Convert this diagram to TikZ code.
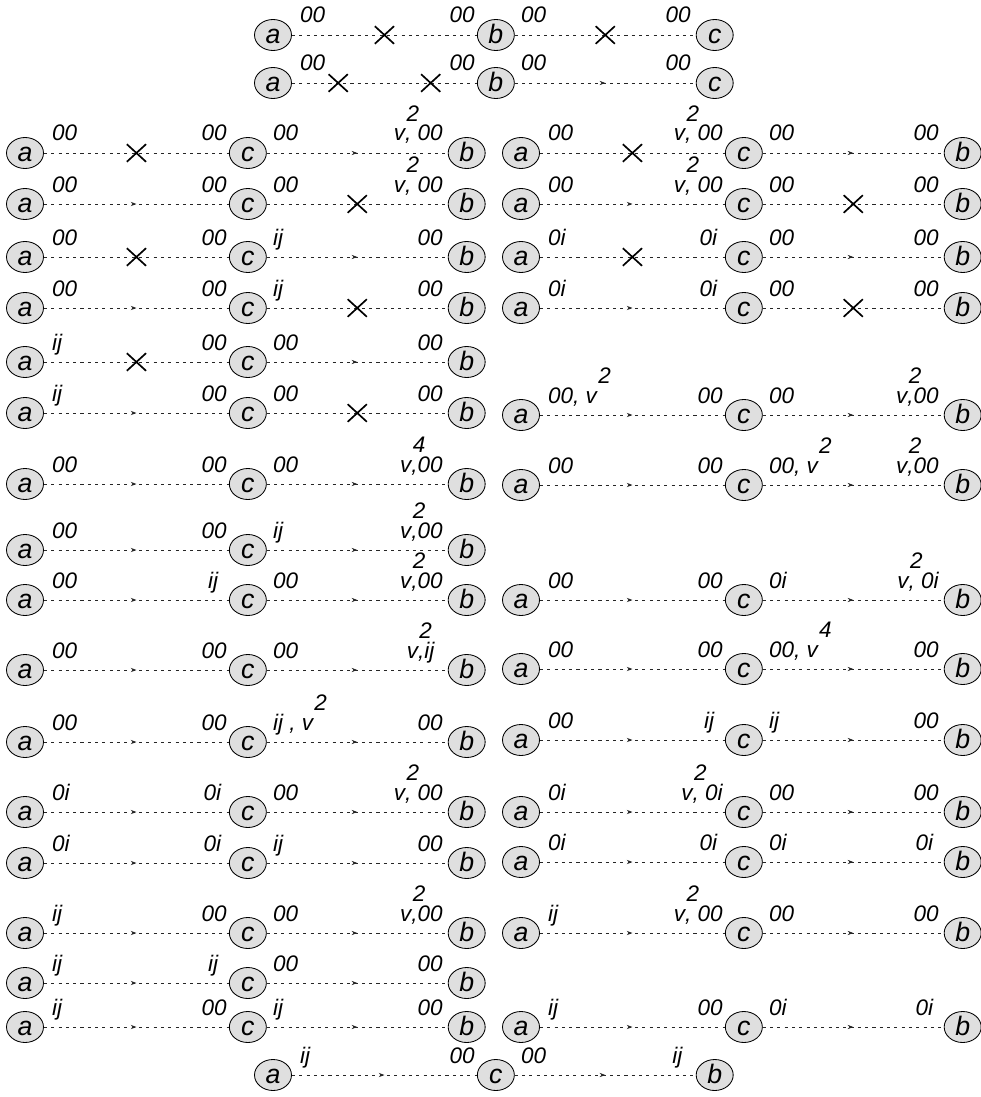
\documentclass[tikz,border=0pt]{standalone}
\usepackage{fontspec}
\setmainfont{Liberation Sans}
\usetikzlibrary{positioning,shapes.geometric,arrows.meta,decorations.markings}

\newcommand{\hiexp}[1]{\rlap{\kern1pt\raisebox{0.85em}{#1}}}

\tikzset{
  vx/.style={ellipse, draw, fill=gray!25, line width=0.6pt, minimum width=0.925cm, minimum height=0.775cm,
    inner sep=0pt, text height=12.5pt, text depth=0pt, font=\fontsize{19}{23}\selectfont\itshape},
  lbr/.style={anchor=base west, inner sep=0pt, font=\fontsize{16}{19}\selectfont\itshape},
  lbl/.style={anchor=base east, inner sep=0pt, font=\fontsize{16}{19}\selectfont\itshape},
  link/.style={draw=black!85, line width=0.55pt, dash pattern=on 2.2pt off 3pt},
  xmark/.style={solid, draw=black, line width=1.2pt},
  fwd/.style={link, postaction={decorate}, decoration={markings,
    mark=at position 0.5 with {\arrow{Stealth[length=4pt,width=3pt]}}}},
  cut/.style={link, postaction={decorate}, decoration={markings,
    mark=at position 0.5 with {\draw[xmark] (-0.24,-0.22) -- (0.24,0.22) (-0.24,0.22) -- (0.24,-0.22);}}},
  cuttwo/.style={link, postaction={decorate}, decoration={markings,
    mark=at position 0.25 with {\draw[xmark] (-0.24,-0.22) -- (0.24,0.22) (-0.24,0.22) -- (0.24,-0.22);},
    mark=at position 0.75 with {\draw[xmark] (-0.24,-0.22) -- (0.24,0.22) (-0.24,0.22) -- (0.24,-0.22);}}}
}

% #1 name, #2 #3 where a sits, #4 a right, #5 c left, #6 c right, #7 b left, #8 #9 the two links
\newcommand{\acb}[9]{%
  \node[vx] (#1a) at (#2,#3) {a};
  \node[vx, right=4.625cm of #1a] (#1c) {c};
  \node[vx, right=4.525cm of #1c] (#1b) {b};
  \node[above right=0.3cm and 0.2cm of #1a.east, lbr] (#1ar) {#4};
  \node[above left=0.3cm and 0.05cm of #1c.west, lbl] (#1cl) {#5};
  \node[above right=0.3cm and 0.15cm of #1c.east, lbr] (#1cr) {#6};
  \node[above left=0.3cm and 0.12cm of #1b.west, lbl] (#1bl) {#7};
  \draw[#8] (#1a) -- (#1c);
  \draw[#9] (#1c) -- (#1b);
}

\begin{document}
\begin{tikzpicture}[x=1cm,y=1cm]
\useasboundingbox (0,0) rectangle (24.5,-27.425);
\node[vx] (t1a) at (6.825,-0.875) {a};
\node[vx, right=4.625cm of t1a] (t1b) {b};
\node[vx, right=4.525cm of t1b] (t1c) {c};
\node[above right=0.3cm and 0.2cm of t1a.east, lbr] (t1ar) {00};
\node[above left=0.3cm and 0.05cm of t1b.west, lbl] (t1bl) {00};
\node[above right=0.3cm and 0.15cm of t1b.east, lbr] (t1br) {00};
\node[above left=0.3cm and 0.12cm of t1c.west, lbl] (t1cl) {00};
\draw[cut] (t1a) -- (t1b);
\draw[cut] (t1b) -- (t1c);
\node[vx] (t2a) at (6.825,-2.075) {a};
\node[vx, right=4.625cm of t2a] (t2b) {b};
\node[vx, right=4.525cm of t2b] (t2c) {c};
\node[above right=0.3cm and 0.2cm of t2a.east, lbr] (t2ar) {00};
\node[above left=0.3cm and 0.05cm of t2b.west, lbl] (t2bl) {00};
\node[above right=0.3cm and 0.15cm of t2b.east, lbr] (t2br) {00};
\node[above left=0.3cm and 0.12cm of t2c.west, lbl] (t2cl) {00};
\draw[cuttwo] (t2a) -- (t2b);
\draw[fwd] (t2b) -- (t2c);
\acb{l1}{0.625}{-3.825}{00}{00}{00}{v\hiexp{2}, 00}{cut}{fwd}
\acb{l2}{0.625}{-5.1}{00}{00}{00}{v\hiexp{2}, 00}{fwd}{cut}
\acb{l3}{0.625}{-6.425}{00}{00}{ij}{00}{cut}{fwd}
\acb{l4}{0.625}{-7.7}{00}{00}{ij}{00}{fwd}{cut}
\acb{l5}{0.625}{-9.05}{ij}{00}{00}{00}{cut}{fwd}
\acb{l6}{0.625}{-10.325}{ij}{00}{00}{00}{fwd}{cut}
\acb{l7}{0.625}{-12.1}{00}{00}{00}{v\hiexp{4},00}{fwd}{fwd}
\acb{l8}{0.625}{-13.75}{00}{00}{ij}{v\hiexp{2},00}{fwd}{fwd}
\acb{l9}{0.625}{-15.0}{00}{ij\kern6pt}{00}{v\hiexp{2},00}{fwd}{fwd}
\acb{l10}{0.625}{-16.75}{00}{00}{00}{v\hiexp{2},ij\kern6pt}{fwd}{fwd}
\acb{l11}{0.625}{-18.55}{00}{00}{ij , v\hiexp{2}}{00}{fwd}{fwd}
\acb{l12}{0.625}{-20.3}{0i}{0i\kern4pt}{00}{v\hiexp{2}, 00}{fwd}{fwd}
\acb{l13}{0.625}{-21.575}{0i}{0i\kern4pt}{ij}{00}{fwd}{fwd}
\acb{l14}{0.625}{-23.325}{ij}{00}{00}{v\hiexp{2},00}{fwd}{fwd}
\acb{l15}{0.625}{-24.575}{ij}{ij\kern6pt}{00}{00}{fwd}{fwd}
\acb{l16}{0.625}{-25.675}{ij}{00}{ij}{00}{fwd}{fwd}
\acb{r1}{13.025}{-3.825}{00}{v\hiexp{2}, 00}{00}{00}{cut}{fwd}
\acb{r2}{13.025}{-5.1}{00}{v\hiexp{2}, 00}{00}{00}{fwd}{cut}
\acb{r3}{13.025}{-6.425}{0i}{0i\kern4pt}{00}{00}{cut}{fwd}
\acb{r4}{13.025}{-7.7}{0i}{0i\kern4pt}{00}{00}{fwd}{cut}
\acb{r5}{13.025}{-10.375}{00, v\hiexp{2}}{00}{00}{v\hiexp{2},00}{fwd}{fwd}
\acb{r6}{13.025}{-12.125}{00}{00}{00, v\hiexp{2}}{v\hiexp{2},00}{fwd}{fwd}
\acb{r7}{13.025}{-15.0}{00}{00}{0i}{v\hiexp{2}, 0i}{fwd}{fwd}
\acb{r8}{13.025}{-16.725}{00}{00}{00, v\hiexp{4}}{00}{fwd}{fwd}
\acb{r9}{13.025}{-18.5}{00}{ij\kern6pt}{ij}{00}{fwd}{fwd}
\acb{r10}{13.025}{-20.3}{0i}{v\hiexp{2}, 0i}{00}{00}{fwd}{fwd}
\acb{r11}{13.025}{-21.55}{0i}{0i\kern4pt}{0i}{0i\kern4pt}{fwd}{fwd}
\acb{r12}{13.025}{-23.325}{ij}{v\hiexp{2}, 00}{00}{00}{fwd}{fwd}
\acb{r13}{13.025}{-25.675}{ij}{00}{0i}{0i\kern4pt}{fwd}{fwd}
\acb{bt}{6.825}{-26.875}{ij}{00}{00}{ij\kern6pt}{fwd}{fwd}
\end{tikzpicture}
\end{document}
